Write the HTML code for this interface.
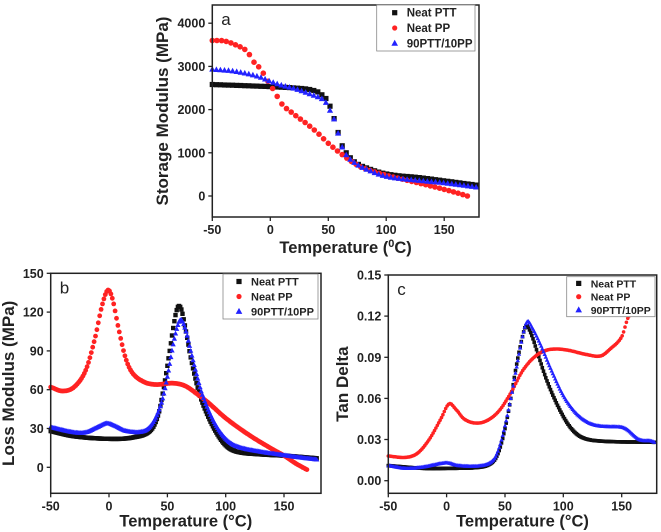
<!DOCTYPE html>
<html><head><meta charset="utf-8"><style>
html,body{margin:0;padding:0;background:#fff;overflow:hidden;}
svg{display:block;font-family:"Liberation Sans",Arial,sans-serif;font-weight:bold;}
</style></head><body>
<svg id="s" width="661" height="532" viewBox="0 0 661 532" xmlns="http://www.w3.org/2000/svg"></svg>
<script>
const S=document.getElementById('s');let h='';
function slope(p,i){const n=p.length;if(i==0)return (p[1][1]-p[0][1])/(p[1][0]-p[0][0]);if(i==n-1)return (p[n-1][1]-p[n-2][1])/(p[n-1][0]-p[n-2][0]);return (p[i+1][1]-p[i-1][1])/(p[i+1][0]-p[i-1][0]);}
function interp(pts,t){for(let i=0;i<pts.length-1;i++){if(t>=pts[i][0]&&t<=pts[i+1][0]){const a=pts[i],b=pts[i+1];const d=b[0]-a[0],u=(t-a[0])/d;const m0=slope(pts,i)*d,m1=slope(pts,i+1)*d;
 const h00=2*u*u*u-3*u*u+1,h10=u*u*u-2*u*u+u,h01=-2*u*u*u+3*u*u,h11=u*u*u-u*u;return h00*a[1]+h10*m0+h01*b[1]+h11*m1;}}return null;}
const f=v=>(+v).toFixed(1);
function mk(type,x,y,r,col){
 x=+x;y=+y;
 if(type=='sq')return `<rect x="${f(x-r)}" y="${f(y-r)}" width="${2*r}" height="${2*r}" fill="${col}"/>`;
 if(type=='ci')return `<circle cx="${f(x)}" cy="${f(y)}" r="${r}" fill="${col}"/>`;
 return `<polygon points="${f(x)},${f(y-r*1.2)} ${f(x-r*1.1)},${f(y+r*0.8)} ${f(x+r*1.1)},${f(y+r*0.8)}" fill="${col}"/>`;
}
function panel(P){
 const X=v=>P.x0+(v-P.xmin)*(P.x1-P.x0)/(P.xmax-P.xmin);
 const Y=v=>P.y1-(v-P.ymin)*(P.y1-P.y0)/(P.ymax-P.ymin);
 P.series.forEach(s=>{
  const t0=s.pts[0][0],t1=s.pts[s.pts.length-1][0];
  for(let t=t0;t<=t1+1e-6;t+=s.step){const v=interp(s.pts,Math.min(t,t1));if(v==null)continue;h+=mk(s.type,X(t),Y(v),s.r,s.col);}
 });
 h+=`<rect x="${P.x0}" y="${P.y0}" width="${f(P.x1-P.x0)}" height="${f(P.y1-P.y0)}" fill="none" stroke="#222" stroke-width="1.5"/>`;
 P.xt.forEach(v=>{const x=f(X(v));h+=`<line x1="${x}" y1="${P.y1}" x2="${x}" y2="${P.y1+4}" stroke="#222" stroke-width="1.3"/><text x="${x}" y="${P.y1+17}" font-size="12.5" text-anchor="middle" fill="#222">${v}</text>`;});
 P.yt.forEach(v=>{const y=Y(v);h+=`<line x1="${P.x0-4}" y1="${f(y)}" x2="${P.x0}" y2="${f(y)}" stroke="#222" stroke-width="1.3"/><text x="${P.x0-7}" y="${f(y+4.5)}" font-size="12.5" text-anchor="end" fill="#222">${P.yfmt?P.yfmt(v):v}</text>`;});
 h+=`<text x="${f((P.x0+P.x1)/2)}" y="${f(P.y1+P.xly)}" font-size="16.5" text-anchor="middle" fill="#222">${P.xlab}</text>`;
 h+=`<text transform="translate(${P.ylx},${f((P.y0+P.y1)/2)}) rotate(-90)" font-size="17" text-anchor="middle" fill="#222">${P.ylab}</text>`;
 h+=`<text x="${P.x0+9}" y="${P.y0+20}" font-size="17" font-weight="normal" fill="#222">${P.tag}</text>`;
 const L=P.leg;h+=`<rect x="${L[0]}" y="${L[1]}" width="${f(L[2]-L[0])}" height="${f(L[3]-L[1])}" fill="#fff" stroke="#888" stroke-width="0.8"/>`;
 const dy=(L[3]-L[1])/3;
 P.series.forEach((s,i)=>{const y=L[1]+dy*(i+0.5);h+=mk(s.type,L[0]+P.lx,y,s.type=='tr'?3:2.6,s.col);h+=`<text x="${f(L[0]+P.lx+12)}" y="${f(y+4)}" font-size="${P.lfs}" fill="#222">${s.name}</text>`;});
}
const K='#111',R='#f22',B='#22f';
panel({x0:212.3,x1:479,y0:5,y1:217,xmin:-50,xmax:180,ymin:-487,ymax:4421,xly:36,lx:18,lfs:11.5,
 xt:[-50,0,50,100,150],yt:[0,1000,2000,3000,4000],xlab:'Temperature (<tspan dy="-6" font-size="11">0</tspan><tspan dy="6">C)</tspan>',ylab:'Storage Modulus (MPa)',ylx:168,tag:'a',leg:[376.7,5,475,51],
 series:[
 {name:'Neat PTT',type:'sq',col:K,r:2.6,step:3.5,pts:[[-50,2580],[0,2530],[30,2480],[40,2420],[45,2330],[50,2180],[53,1950],[57,1620],[60,1320],[63,1100],[67,950],[72,800],[80,680],[100,510],[130,420],[150,350],[178,250]]},
 {name:'Neat PP',type:'ci',col:R,r:2.8,step:4,pts:[[-50,3600],[-40,3590],[-30,3500],[-20,3350],[-15,3130],[-10,2990],[-5,2800],[0,2560],[3,2450],[10,2130],[20,1900],[30,1700],[40,1480],[50,1220],[60,1000],[70,800],[80,650],[100,480],[120,350],[140,220],[160,80],[170,0]]},
 {name:'90PTT/10PP',type:'tr',col:B,r:2.8,step:3.5,pts:[[-50,2930],[-30,2880],[-10,2760],[0,2650],[10,2560],[20,2490],[30,2400],[40,2300],[47,2200],[50,2050],[54,1850],[57,1600],[60,1300],[63,1060],[67,900],[72,780],[80,650],[100,450],[130,350],[150,300],[178,200]]}]});
panel({x0:50.7,x1:321,y0:273.3,y1:493.3,xmin:-50,xmax:181.7,ymin:-20.1,ymax:150,xly:33,lx:16,lfs:11,
 xt:[-50,0,50,100,150],yt:[0,30,60,90,120,150],xlab:'Temperature (°C)',ylab:'Loss Modulus (MPa)',ylx:14,tag:'b',leg:[223,274,318,319],
 series:[
 {name:'Neat PTT',type:'sq',col:K,r:2.2,step:1,pts:[[-50,28],[-30,24],[0,22],[20,23],[35,28],[42,40],[47,62],[52,90],[56,113],[59,124],[62,122],[66,105],[70,85],[75,65],[80,50],[90,30],[100,17],[110,12],[130,10],[150,9],[178,7]]},
 {name:'Neat PP',type:'ci',col:R,r:2.4,step:1.2,pts:[[-50,62],[-40,59],[-30,62],[-20,75],[-12,100],[-6,125],[-1,137],[3,130],[8,108],[14,85],[20,73],[30,66],[40,64],[55,65],[65,63],[75,57],[85,50],[100,38],[120,25],[140,14],[150,9],[160,3],[170,-2]]},
 {name:'90PTT/10PP',type:'tr',col:B,r:2.4,step:1,pts:[[-50,31],[-30,27],[-20,27],[-10,31],[-2,34],[5,32],[15,28],[30,28],[38,35],[45,50],[50,70],[55,95],[59,110],[62,114],[66,105],[70,90],[75,72],[80,56],[90,35],[100,22],[110,16],[130,12],[145,10],[160,8],[178,6]]}]});
panel({x0:388.3,x1:656.7,y0:275,y1:493.3,xmin:-50,xmax:180,ymin:-0.0092,ymax:0.15,xly:33,lx:12,lfs:10.5,
 xt:[-50,0,50,100,150],yt:[0,0.03,0.06,0.09,0.12,0.15],yfmt:v=>v.toFixed(2),xlab:'Temperature (°C)',ylab:'Tan Delta',ylx:348,tag:'c',leg:[566.7,276.7,655,316.7],
 series:[
 {name:'Neat PTT',type:'sq',col:K,r:1.8,step:1,pts:[[-50,0.011],[-20,0.009],[0,0.009],[30,0.010],[40,0.014],[45,0.022],[50,0.038],[55,0.06],[60,0.085],[65,0.105],[68,0.113],[72,0.108],[78,0.093],[85,0.075],[95,0.055],[105,0.04],[115,0.032],[130,0.029],[178,0.028]]},
 {name:'Neat PP',type:'ci',col:R,r:1.8,step:1.2,pts:[[-50,0.018],[-35,0.017],[-25,0.02],[-15,0.03],[-5,0.045],[2,0.056],[8,0.052],[15,0.045],[25,0.042],[35,0.044],[45,0.051],[55,0.064],[65,0.08],[75,0.09],[85,0.095],[95,0.096],[105,0.095],[120,0.092],[132,0.091],[140,0.096],[150,0.105],[155,0.118],[158,0.122]]},
 {name:'90PTT/10PP',type:'tr',col:B,r:2,step:1,pts:[[-50,0.011],[-35,0.009],[-20,0.010],[0,0.013],[10,0.011],[30,0.011],[40,0.015],[45,0.024],[50,0.04],[55,0.06],[60,0.083],[65,0.105],[69,0.116],[73,0.112],[80,0.1],[90,0.08],[100,0.062],[110,0.05],[120,0.043],[130,0.04],[150,0.039],[155,0.037],[165,0.03],[175,0.029],[178,0.028]]}]});
S.innerHTML=h;
</script>
</body></html>
